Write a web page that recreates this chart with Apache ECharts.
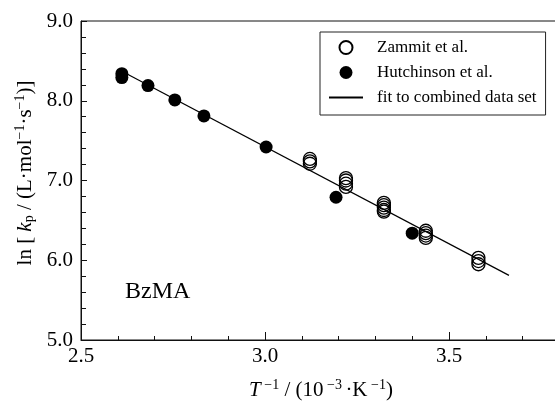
<!DOCTYPE html>
<html>
<head>
<meta charset="utf-8">
<script src="https://cdn.jsdelivr.net/npm/echarts@6/dist/echarts.min.js"></script>
<style>
  html, body { margin: 0; padding: 0; background: #fff; }
  #main { width: 555px; height: 406px; }
</style>
</head>
<body>
<div id="main"></div>
<script>
const FONT = 'Liberation Serif';

// Zammit et al. (open circles), [1/T, ln kp]
const zammitData = [
  [3.122, 7.27], [3.122, 7.24], [3.122, 7.21],
  [3.220, 7.03], [3.220, 7.00], [3.220, 6.96], [3.220, 6.92],
  [3.323, 6.72], [3.323, 6.69], [3.323, 6.66], [3.323, 6.63], [3.323, 6.61],
  [3.437, 6.37], [3.437, 6.34], [3.437, 6.31], [3.437, 6.28],
  [3.580, 6.03], [3.580, 5.99], [3.580, 5.95]
];

// Hutchinson et al. (filled circles)
const hutchinsonData = [
  [2.611, 8.34], [2.611, 8.29],
  [2.682, 8.19],
  [2.755, 8.01],
  [2.834, 7.81],
  [3.003, 7.42],
  [3.193, 6.79],
  [3.400, 6.34]
];

// fit to combined data set
const fitLine = [[2.611, 8.37], [3.663, 5.81]];

const xTicks = { min: 2.5, max: 4.0, interval: 0.5 };
const yTicks = { min: 5.0, max: 9.0, interval: 1.0 };

const chart = echarts.init(document.getElementById('main'));

const option = {
  animation: false,
  backgroundColor: '#fff',
  grid: {
    left: 81, top: 21, width: 552, height: 319,
    outerBoundsMode: 'none',
    containLabel: false,
    show: true, borderColor: '#111', borderWidth: 1
  },
  legend: {
    orient: 'vertical',
    left: 320, top: 32,
    itemWidth: 34, itemHeight: 13, itemGap: 8,
    padding: [7, 9, 9, 8],
    borderColor: '#222', borderWidth: 1,
    textStyle: { fontFamily: FONT, fontSize: 17, color: '#000', lineHeight: 17, padding: [0, 0, 0, 9] },
    data: [
      { name: 'Zammit et al.', icon: 'circle' },
      { name: 'Hutchinson et al.', icon: 'circle' },
      { name: 'fit to combined data set', itemStyle: { opacity: 0 } }
    ]
  },
  xAxis: {
    type: 'value',
    min: xTicks.min, max: xTicks.max, interval: xTicks.interval,
    axisLine: { lineStyle: { color: '#111', width: 1 } },
    axisTick: { inside: true, length: 8, lineStyle: { color: '#111' } },
    minorTick: { show: true, splitNumber: 5, length: 4, lineStyle: { color: '#111' } },
    splitLine: { show: false },
    axisLabel: {
      fontFamily: FONT, fontSize: 21, color: '#000', margin: 6,
      formatter: v => v.toFixed(1)
    }
  },
  yAxis: {
    type: 'value',
    min: yTicks.min, max: yTicks.max, interval: yTicks.interval,
    axisLine: { show: true, lineStyle: { color: '#111', width: 1 } },
    axisTick: { show: true, inside: true, length: 6, lineStyle: { color: '#111' } },
    minorTick: { show: true, splitNumber: 5, length: 5, lineStyle: { color: '#111' } },
    splitLine: { show: false },
    axisLabel: {
      fontFamily: FONT, fontSize: 21, color: '#000', margin: 8,
      formatter: v => v.toFixed(1)
    }
  },
  series: [
    {
      name: 'fit to combined data set',
      type: 'line',
      data: fitLine,
      symbol: 'circle',
      symbolSize: 0,
      showSymbol: false,
      itemStyle: { color: '#000' },
      lineStyle: { color: '#000', width: 1.2 },
      z: 1
    },
    {
      name: 'Zammit et al.',
      type: 'scatter',
      data: zammitData,
      symbol: 'circle',
      symbolSize: 13,
      itemStyle: { color: 'rgba(0,0,0,0)', borderColor: '#000', borderWidth: 1.3, opacity: 1 },
      z: 3
    },
    {
      name: 'Hutchinson et al.',
      type: 'scatter',
      data: hutchinsonData,
      symbol: 'circle',
      symbolSize: 13,
      itemStyle: { color: '#000', opacity: 1 },
      z: 2
    }
  ],
  graphic: [
    {
      type: 'text', left: 125, top: 280,
      style: { text: 'BzMA', fontFamily: FONT, fontSize: 24, fill: '#000' }
    },
    {
      type: 'text', x: 321, y: 390,
      style: {
        text: '{i|T}{sup| −1} / (10{sup| −3 }·K{sup| −1})',
        fontFamily: FONT, fontSize: 21, fill: '#000',
        align: 'center', verticalAlign: 'middle',
        rich: {
          i: { fontFamily: FONT, fontSize: 21, fontStyle: 'italic', lineHeight: 23 },
          sup: { fontFamily: FONT, fontSize: 14, verticalAlign: 'top', lineHeight: 23 }
        }
      }
    },
    {
      type: 'text', x: 25, y: 173, rotation: Math.PI / 2,
      style: {
        text: 'ln [ {i|k}{sub|p} / (L·mol{sup|−1}·s{sup|−1})]',
        fontFamily: FONT, fontSize: 21, fill: '#000',
        align: 'center', verticalAlign: 'middle',
        rich: {
          i: { fontFamily: FONT, fontSize: 21, fontStyle: 'italic', lineHeight: 23 },
          sub: { fontFamily: FONT, fontSize: 14, verticalAlign: 'bottom', lineHeight: 23 },
          sup: { fontFamily: FONT, fontSize: 14, verticalAlign: 'top', lineHeight: 23 }
        }
      }
    }
  ]
};

chart.setOption(option);
</script>
</body>
</html>
